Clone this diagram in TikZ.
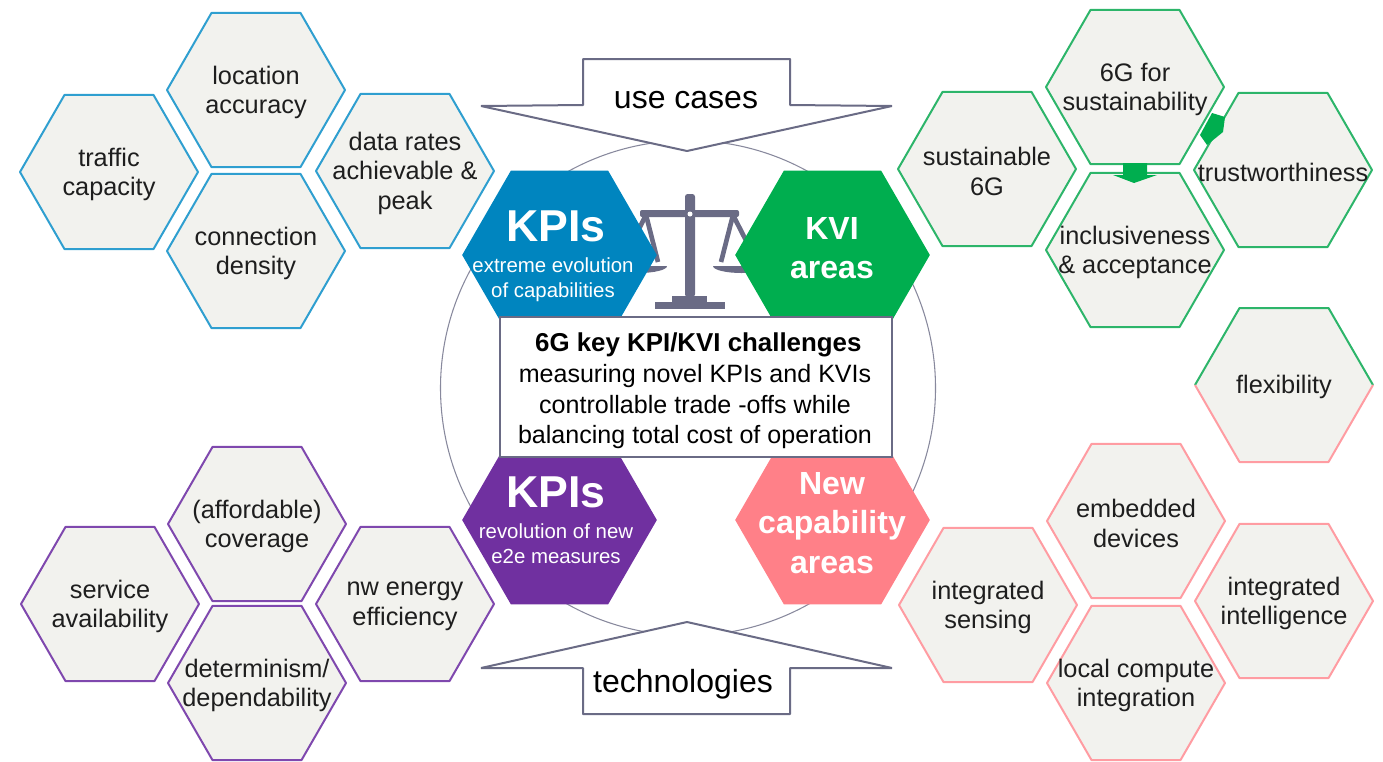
\documentclass[tikz,border=0pt]{standalone}
\usepackage{fontspec}
\setmainfont{Liberation Sans}
\usetikzlibrary{shapes.geometric}

\definecolor{kpiblue}{HTML}{0085BF}
\definecolor{kvigreen}{HTML}{00AE4F}
\definecolor{kpipurple}{HTML}{7030A0}
\definecolor{newpink}{HTML}{FF8088}
\definecolor{celledgeblue}{HTML}{2F9FD0}
\definecolor{celledgegreen}{HTML}{2DB56A}
\definecolor{celledgepurple}{HTML}{7F48AE}
\definecolor{celledgepink}{HTML}{FF9CA2}
\definecolor{cellfill}{HTML}{F2F2EE}
\definecolor{slate}{HTML}{6A6B85}
\definecolor{inktext}{HTML}{1E1E1E}

\tikzset{
  hexcell/.style={regular polygon, regular polygon sides=6, minimum size=133.5pt,
    inner sep=0pt, outer sep=0pt, fill=cellfill, line width=1.5pt, line join=round},
  hexbig/.style={regular polygon, regular polygon sides=6, minimum size=146pt,
    inner sep=0pt, outer sep=0pt},
  celltext/.style={align=center, text=inktext, inner sep=0pt, yshift=-1.8pt,
    font=\fontsize{19}{22.3}\selectfont},
  boxtext/.style={align=center, text=black, inner sep=0pt,
    font=\fontsize{18.8}{23.1}\selectfont},
  bigword/.style={align=center, text=white, inner sep=0pt,
    font=\bfseries\fontsize{33.5}{38}\selectfont},
  areaword/.style={align=center, text=white, inner sep=0pt,
    font=\bfseries\fontsize{24}{29.4}\selectfont},
  subword/.style={align=center, text=white, inner sep=0pt,
    font=\fontsize{15.3}{19}\selectfont},
  banner/.style={draw=slate, fill=white, line width=1.5pt, line join=bevel},
  bannertext/.style={text=black, inner sep=0pt, font=\fontsize{24}{28}\selectfont}
}

\begin{document}
\begin{tikzpicture}[x=0.75pt,y=-0.75pt]

    % Fix the page to the reference size
    \useasboundingbox (0,0) rectangle (1383,761);

    % Draw the big circle
    \coordinate (O) at (688,388);
    \draw[slate!80, line width=0.8pt] (O) circle (247.5);

    % Draw the scales
    \fill[slate] (655,302) rectangle (725,309);
    \fill[slate] (672,296) rectangle (707,302);
    \fill[slate, rounded corners=2pt] (685,297) -- (685,194) -- (695,194) -- (695,297) -- cycle;
    \fill[slate, rounded corners=1.5pt] (640,210) rectangle (739,217);
    \draw[slate, line width=3.5pt] (646,215) -- (622,262);
    \draw[slate, line width=3.5pt] (646,215) -- (658,262);
    \draw[slate, line width=3.5pt] (733,215) -- (721,262);
    \draw[slate, line width=3.5pt] (733,215) -- (757,262);
    \fill[slate] (610,266) -- (667,266) arc[start angle=0, end angle=-180, x radius=28.5, y radius=-7] -- cycle;
    \fill[slate] (713,266) -- (770,266) arc[start angle=0, end angle=-180, x radius=28.5, y radius=-7] -- cycle;
    \fill[white] (690,214) circle (2.5);

    % Draw the two banners
    \draw[banner] (583,59) -- (790,59) -- (790,105) -- (892,106) -- (687,151) -- (481,106) -- (583,105) -- cycle;
    \draw[banner] (687,622) -- (892,668) -- (790,668) -- (790,714) -- (583,714) -- (583,668) -- (481,668) -- cycle;
    \node[bannertext] (usecases) at (686,100) {use cases};
    \node[bannertext] (technologies) at (683,684) {technologies};

    % Draw the four central hexagons
    \node[hexbig, fill=kpiblue] (kpitop) at (559.5,255) {};
    \node[hexbig, fill=kvigreen] (kvi) at (832.5,255) {};
    \node[hexbig, fill=kpipurple] (kpibottom) at (559.5,520) {};
    \node[hexbig, fill=newpink] (newcap) at (832.5,520) {};

    % Add the labels of the central hexagons
    \node[bigword] (kpitoptitle) at (556,226) {KPIs};
    \node[subword] (kpitopsub) at (553,280) {extreme evolution\\of capabilities};
    \node[areaword] (kvititle) at (832,248) {KVI\\areas};
    \node[bigword] (kpibottomtitle) at (556,492) {KPIs};
    \node[subword] (kpibottomsub) at (556,544) {revolution of new\\e2e measures};
    \node[areaword] (newcaptitle) at (832,523) {New\\capability\\areas};

    % Draw the challenges box
    \node[draw=slate, fill=white, line width=2.2pt, minimum width=294pt, minimum height=105pt,
      inner sep=0pt] (challenges) at (696,387) {};
    \node[boxtext] (challengestext) at (695,391)
      {\hspace*{5pt}{\bfseries\fontsize{19.4}{23.1}\selectfont 6G key KPI/KVI challenges}\\measuring novel KPIs and KVIs\hspace*{4pt}\\controllable trade -offs while\\balancing total cost of operation};

    % Blue cells
    \node[hexcell, draw=celledgeblue, label={[celltext]center:traffic\\capacity}] (traffic) at (109,172) {};
    \node[hexcell, draw=celledgeblue, label={[celltext]center:location\\accuracy}] (location) at (256,90) {};
    \node[hexcell, draw=celledgeblue, label={[celltext]center:connection\\density}] (density) at (256,251) {};
    \node[hexcell, draw=celledgeblue, label={[celltext]center:data rates\\achievable \&\\peak}] (datarates) at (405,171) {};

    % Green cells
    \node[hexcell, draw=celledgegreen, label={[celltext]center:sustainable\\6G}] (sustainable) at (987,169) {};
    \node[hexcell, draw=celledgegreen, label={[celltext]center:6G for\\sustainability}] (forsustain) at (1135,87) {};
    \node[hexcell, draw=celledgegreen, label={[celltext]center:trustworthiness}] (trust) at (1283,170) {};
    \node[hexcell, draw=celledgegreen, label={[celltext]center:inclusiveness\\\& acceptance}] (inclusive) at (1135,250) {};

    % Small green arrows between the cells
    \fill[kvigreen] (1123,163) -- (1147,163) -- (1147,175) -- (1157,175) -- (1134,183) -- (1113,175) -- (1123,175) -- cycle;
    \fill[kvigreen] (1200,135) -- (1212,113) -- (1225,117) -- (1223,132) -- (1207,145) -- cycle;

    % Flexibility cell has two edge colours
    \node[hexcell, label={[celltext]center:flexibility}] (flexibility) at (1284,385) {};
    \coordinate (FL) at (1195,385);
    \coordinate (FR) at (1373,385);
    \draw[celledgegreen, line width=1.5pt, line join=round] (FL) -- (1239.5,308) -- (1328.5,308) -- (FR);
    \draw[celledgepink, line width=1.5pt, line join=round] (FL) -- (1239.5,462) -- (1328.5,462) -- (FR);

    % Purple cells
    \node[hexcell, draw=celledgepurple, label={[celltext]center:(affordable)\\coverage}] (coverage) at (257,524) {};
    \node[hexcell, draw=celledgepurple, label={[celltext]center:service\\availability}] (service) at (110,604) {};
    \node[hexcell, draw=celledgepurple, label={[celltext]center:determinism/\\dependability}] (determinism) at (257,683) {};
    \node[hexcell, draw=celledgepurple, label={[celltext]center:nw energy\\efficiency}] (energy) at (405,604) {};

    % Pink cells
    \node[hexcell, draw=celledgepink, label={[celltext]center:embedded\\devices}] (embedded) at (1136,521) {};
    \node[hexcell, draw=celledgepink, label={[celltext]center:integrated\\sensing}] (sensing) at (988,605) {};
    \node[hexcell, draw=celledgepink, label={[celltext]center:integrated\\intelligence}] (intelligence) at (1284,601) {};
    \node[hexcell, draw=celledgepink, label={[celltext]center:local compute\\integration}] (compute) at (1136,683) {};

\end{tikzpicture}
\end{document}
